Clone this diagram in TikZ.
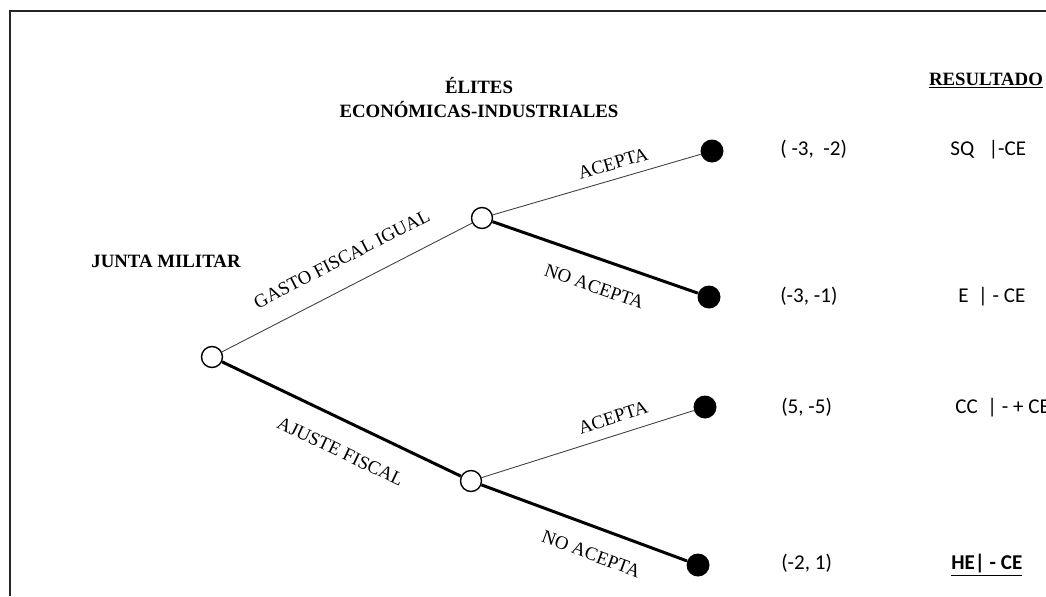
\documentclass[tikz,border=0pt]{standalone}
\usepackage{fontspec}
\setmainfont{Liberation Serif}
\newfontfamily\calibri{Carlito}
\usetikzlibrary{shapes}

\tikzset{
    open/.style={circle, draw, fill=white, line width=0.8pt, minimum size=0.42cm, inner sep=0pt},
    leaf/.style={circle, fill=black, minimum size=0.46cm, inner sep=0pt},
    weakbranch/.style={line width=0.5pt, black!75},
    strongbranch/.style={line width=1.7pt, black},
    branchlabel/.style={font=\fontsize{10.7}{12}\selectfont, text=black, sloped, inner sep=0pt},
    player/.style={font=\fontsize{10.7}{13}\selectfont\bfseries, anchor=base, inner sep=0pt},
    payoff/.style={font=\calibri\fontsize{12}{14}\selectfont, anchor=base west, inner sep=0pt}
}

\begin{document}
\begin{tikzpicture}[x=0.02cm, y=-0.02cm]
                \useasboundingbox (0, 0) rectangle (1046, 596);
                \draw[line width=1.1pt, black!85] (10, 596) -- (10, 11) -- (1046, 11);

                \node[open] (jm) at (212, 357) {};
                \node[open] (ea) at (482, 218) {};
                \node[open] (eb) at (471, 481) {};
                \node[leaf] (t1) at (712, 151) {};
                \node[leaf] (t2) at (709, 297) {};
                \node[leaf] (t3) at (705, 407) {};
                \node[leaf] (t4) at (698, 565) {};

                \draw[weakbranch] (jm) -- node[branchlabel, pos=0.53, above=0.42cm] {GASTO FISCAL IGUAL} (ea);
                \draw[strongbranch] (jm) -- node[branchlabel, pos=0.55, below=0.44cm] {AJUSTE FISCAL} (eb);
                \draw[weakbranch] (ea) -- node[branchlabel, pos=0.6, above=0.18cm] {ACEPTA} (t1);
                \draw[strongbranch] (ea) -- node[branchlabel, pos=0.54, below=0.4cm] {NO ACEPTA} (t2);
                \draw[weakbranch] (eb) -- node[branchlabel, pos=0.645, above=0.22cm] {ACEPTA} (t3);
                \draw[strongbranch] (eb) -- node[branchlabel, pos=0.58, below=0.38cm] {NO ACEPTA} (t4);

                \node[player] (junta) at (166, 267) {JUNTA MILITAR};
                \node[player] (elites) at (479, 93) {ÉLITES};
                \node[player] (econ) at (479, 117) {ECONÓMICAS-INDUSTRIALES};
                \node[player] (res) at (986, 85) {\underline{RESULTADO}};

                \node[payoff] (p1) at (780, 155) {(\ -3,\ \ -2)};
                \node[payoff] (p2) at (780, 302) {(-3, -1)};
                \node[payoff] (p3) at (781, 413) {(5, -5)};
                \node[payoff] (p4) at (781, 569) {(-2, 1)};

                \node[payoff] (r1) at (950, 155) {SQ\ \ \ |-CE};
                \node[payoff] (r2) at (958, 302) {E\ \ | - CE};
                \node[payoff] (r3) at (955, 413) {CC\ \ | - + CE};
                \node[payoff] (r4) at (951, 569) {\bfseries\underline{HE| - CE}};
\end{tikzpicture}
\end{document}
